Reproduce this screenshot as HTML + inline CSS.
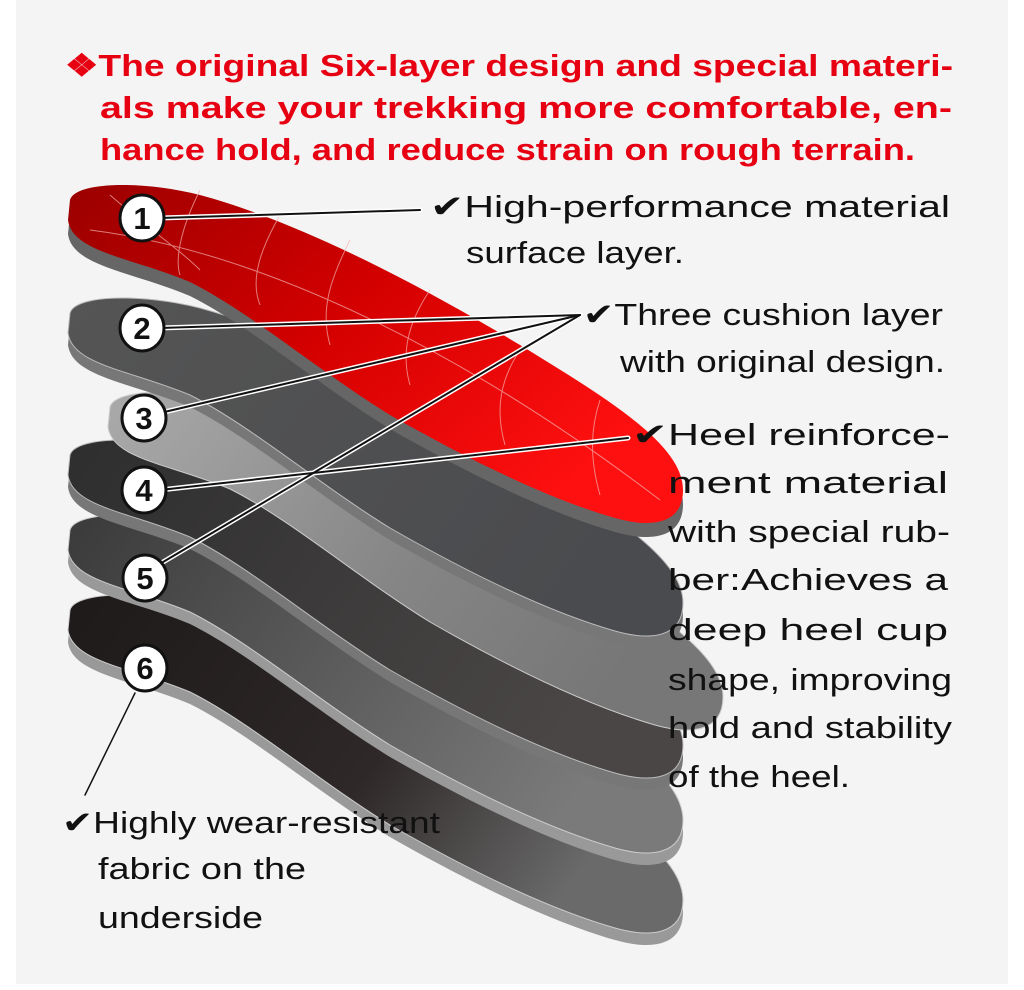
<!DOCTYPE html>
<html><head><meta charset="utf-8"><style>
html,body{margin:0;padding:0;background:#fff;}
svg{display:block}
text{font-family:"Liberation Sans",sans-serif;}
.h{font-weight:bold;fill:#e60012;font-size:31px;}
.t{fill:#111;font-size:31px;}
</style></head><body>
<svg width="1024" height="990" viewBox="0 0 1024 990">
<defs>
<linearGradient id="red" x1="0" y1="0" x2="1" y2="0.6">
<stop offset="0" stop-color="#9a0000"/><stop offset="0.5" stop-color="#d40000"/><stop offset="1" stop-color="#ff1010"/></linearGradient>
<linearGradient id="g6" x1="0" y1="0" x2="1" y2="0.4">
<stop offset="0" stop-color="#1e1a1a"/><stop offset="0.6" stop-color="#2e2828"/><stop offset="1" stop-color="#6a6a6a"/></linearGradient>
<linearGradient id="g5" x1="0" y1="0" x2="1" y2="0.4">
<stop offset="0" stop-color="#3a3a3a"/><stop offset="0.5" stop-color="#5a5a5a"/><stop offset="1" stop-color="#7a7a7a"/></linearGradient>
<linearGradient id="g4" x1="0" y1="0" x2="1" y2="0.4">
<stop offset="0" stop-color="#2e2e2e"/><stop offset="1" stop-color="#4a4646"/></linearGradient>
<linearGradient id="g3" x1="0" y1="0" x2="1" y2="0.4">
<stop offset="0" stop-color="#aaa"/><stop offset="0.6" stop-color="#858585"/><stop offset="1" stop-color="#777"/></linearGradient>
<linearGradient id="g2" x1="0" y1="0" x2="1" y2="0.4">
<stop offset="0" stop-color="#555"/><stop offset="1" stop-color="#4a4b4e"/></linearGradient>
<path id="sole" d="M70,200 C75,182 140,180 200,195 C300,222 420,285 520,345 C610,400 683,445 683,490 C683,525 650,528 615,518 C545,498 460,455 390,415 C320,372 250,312 190,282 C130,257 72,252 68,220 Z"/>
</defs>
<rect x="16" y="0" width="992" height="984" fill="#f4f4f4"/>
<g transform="translate(0,422)"><use href="#sole" fill="#999"/></g>
<g transform="translate(0,410)"><use href="#sole" fill="url(#g6)" stroke="#ccc" stroke-width="1"/></g>
<g transform="translate(0,342)"><use href="#sole" fill="#999"/></g>
<g transform="translate(0,330)"><use href="#sole" fill="url(#g5)" stroke="#ccc" stroke-width="1"/></g>
<g transform="translate(0,267)"><use href="#sole" fill="#777"/></g>
<g transform="translate(0,255)"><use href="#sole" fill="url(#g4)" stroke="#bbb" stroke-width="1"/></g>
<g transform="translate(40,207)"><use href="#sole" fill="url(#g3)" stroke="#ccc" stroke-width="1"/></g>
<g transform="translate(0,125)"><use href="#sole" fill="#777"/></g>
<g transform="translate(0,113)"><use href="#sole" fill="url(#g2)" stroke="#bbb" stroke-width="1"/></g>
<g transform="translate(0,14)"><use href="#sole" fill="#666"/></g>
<g><use href="#sole" fill="url(#red)"/>
<path d="M110,195 C150,230 180,250 200,270 M200,190 C180,230 175,260 180,275 M280,215 C260,250 250,280 260,305 M350,240 C330,280 320,310 330,345 M430,290 C410,320 400,350 410,385 M520,350 C500,380 495,410 505,445 M600,400 C590,430 590,460 600,495 M90,230 C250,250 450,340 660,500" stroke="#f3b0b0" stroke-width="1" fill="none" opacity="0.7"/></g>
<g fill="none" stroke-linecap="round">
<g stroke="#fff" stroke-width="5">
<line x1="160" y1="218" x2="420" y2="210"/>
<line x1="160" y1="328" x2="580" y2="315"/>
<line x1="160" y1="413" x2="580" y2="315"/>
<line x1="160" y1="490" x2="628" y2="438"/>
<line x1="158" y1="565" x2="580" y2="315"/>
</g>
<g stroke="#111" stroke-width="2">
<line x1="160" y1="218" x2="420" y2="210"/>
<line x1="160" y1="328" x2="580" y2="315"/>
<line x1="160" y1="413" x2="580" y2="315"/>
<line x1="160" y1="490" x2="628" y2="438"/>
<line x1="158" y1="565" x2="580" y2="315"/>
</g>
<line x1="135" y1="693" x2="85" y2="795" stroke="#111" stroke-width="1.5"/>
</g>
<g stroke="#111" stroke-width="3" fill="#fff">
<ellipse cx="142" cy="218" rx="22" ry="23"/>
<ellipse cx="142" cy="328" rx="22" ry="23"/>
<ellipse cx="144" cy="418" rx="22" ry="23"/>
<ellipse cx="144" cy="490" rx="22" ry="23"/>
<ellipse cx="145" cy="578" rx="22" ry="23"/>
<ellipse cx="145" cy="668" rx="22" ry="23"/>
</g>
<g font-weight="bold" font-size="31" text-anchor="middle" fill="#111">
<text x="142" y="229">1</text><text x="142" y="339">2</text><text x="144" y="429">3</text>
<text x="144" y="501">4</text><text x="145" y="589">5</text><text x="145" y="679">6</text>
</g>
<text class="h" x="65" y="76" textLength="888" lengthAdjust="spacingAndGlyphs">❖The original Six-layer design and special materi-</text>
<text class="h" x="100" y="118" textLength="852" lengthAdjust="spacingAndGlyphs">als make your trekking more comfortable, en-</text>
<text class="h" x="100" y="160" textLength="815" lengthAdjust="spacingAndGlyphs">hance hold, and reduce strain on rough terrain.</text>
<text class="t" x="430" y="217" textLength="520" lengthAdjust="spacingAndGlyphs">✔High-performance material</text>
<text class="t" x="466" y="263" textLength="218" lengthAdjust="spacingAndGlyphs">surface layer.</text>
<text class="t" x="583" y="325" textLength="360" lengthAdjust="spacingAndGlyphs">✔Three cushion layer</text>
<text class="t" x="620" y="372" textLength="325" lengthAdjust="spacingAndGlyphs">with original design.</text>
<text class="t" x="632" y="445" textLength="318" lengthAdjust="spacingAndGlyphs">✔Heel reinforce-</text>
<text class="t" x="668" y="493" textLength="280" lengthAdjust="spacingAndGlyphs">ment material</text>
<text class="t" x="668" y="542" textLength="282" lengthAdjust="spacingAndGlyphs">with special rub-</text>
<text class="t" x="668" y="590" textLength="280" lengthAdjust="spacingAndGlyphs">ber:Achieves a</text>
<text class="t" x="668" y="640" textLength="280" lengthAdjust="spacingAndGlyphs">deep heel cup</text>
<text class="t" x="668" y="690" textLength="284" lengthAdjust="spacingAndGlyphs">shape, improving</text>
<text class="t" x="668" y="738" textLength="284" lengthAdjust="spacingAndGlyphs">hold and stability</text>
<text class="t" x="668" y="787" textLength="182" lengthAdjust="spacingAndGlyphs">of the heel.</text>
<text class="t" x="62" y="833" textLength="378" lengthAdjust="spacingAndGlyphs">✔Highly wear-resistant</text>
<text class="t" x="98" y="879" textLength="208" lengthAdjust="spacingAndGlyphs">fabric on the</text>
<text class="t" x="98" y="928" textLength="165" lengthAdjust="spacingAndGlyphs">underside</text>
</svg>
</body></html>
